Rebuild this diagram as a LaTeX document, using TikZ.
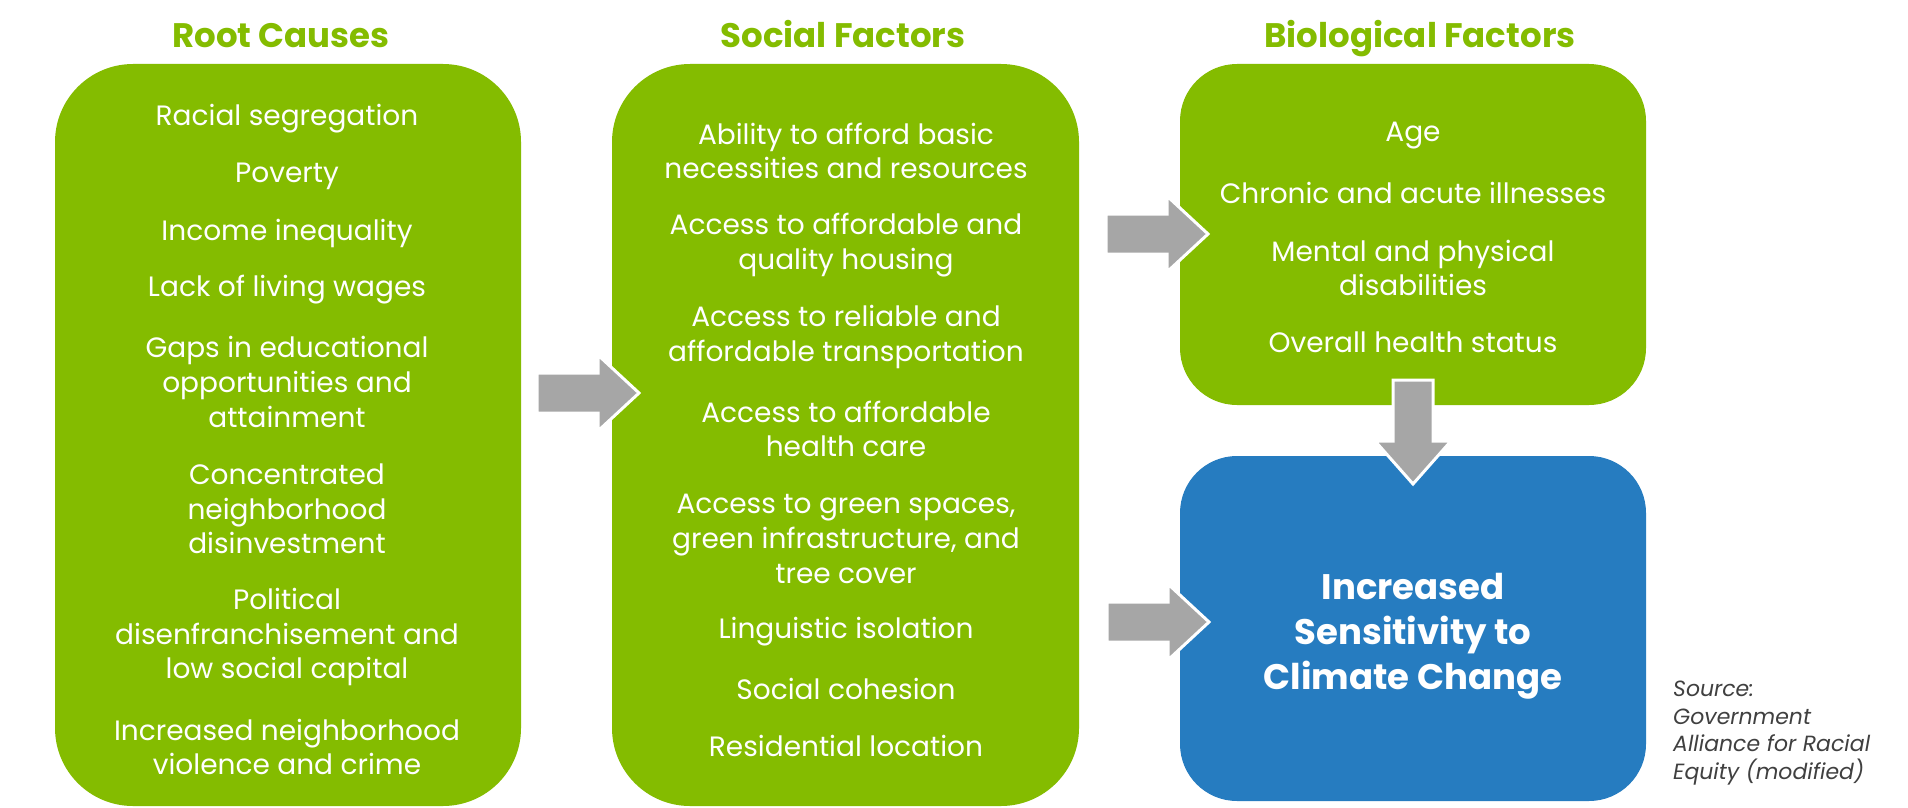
\documentclass[tikz,border=0pt]{standalone}
\usepackage{fontspec}
\setmainfont{Poppins}
\definecolor{leaf}{RGB}{132,188,0}
\definecolor{seablue}{RGB}{38,124,192}
\definecolor{arrowgray}{RGB}{166,166,166}
\definecolor{srcgray}{RGB}{64,64,64}
\tikzset{
  gbox/.style={fill=leaf, draw=none, rounded corners=78pt, inner sep=0pt},
  bbox/.style={fill=seablue, draw=none, rounded corners=57pt, inner sep=0pt},
  title/.style={text=leaf, font=\fontsize{34}{40}\selectfont\bfseries, inner sep=0pt, anchor=base},
  item/.style={text=white, align=center, font=\fontsize{28}{34.7}\selectfont, inner sep=0pt},
  rarrow/.pic={\filldraw[fill=arrowgray, draw=white, line width=3pt, line join=miter]
     (0,-20) -- (61,-20) -- (61,-38) -- (102,0) -- (61,38) -- (61,20) -- (0,20) -- cycle;},
  darrow/.pic={\filldraw[fill=arrowgray, draw=white, line width=3pt, line join=miter]
     (-20,0) -- (-20,61) -- (-38,61) -- (0,104) -- (38,61) -- (20,61) -- (20,0) -- cycle;}
}
\begin{document}
\begin{tikzpicture}[x=1pt,y=-1pt]
\useasboundingbox[fill=white] (0,0) rectangle (1908,808);
% boxes
\path[gbox] (55,64) rectangle (521,806);
\node[inner sep=0pt, minimum width=466pt, minimum height=742pt] (root) at (288,435) {};
\path[gbox] (612,64) rectangle (1079,806);
\node[inner sep=0pt, minimum width=467pt, minimum height=742pt] (social) at (845.5,435) {};
\path[gbox, rounded corners=57pt] (1180,64) rectangle (1646,405);
\node[inner sep=0pt, minimum width=466pt, minimum height=341pt] (bio) at (1413,234.5) {};
\path[bbox] (1180,456) rectangle (1646,801);
\node[inner sep=0pt, minimum width=466pt, minimum height=345pt] (sens) at (1413,628.5) {};
% titles
\node[title] (t1) at (281,48) {Root Causes};
\node[title] (t2) at (843,48) {Social Factors};
\node[title] (t3) at (1420,48) {Biological Factors};
% root causes
\node[item] (r1) at (287,119) {Racial segregation};
\node[item] (r2) at (287,176) {Poverty};
\node[item] (r3) at (287,233) {Income inequality};
\node[item] (r4) at (287,290) {Lack of living wages};
\node[item] (r5) at (287,382) {Gaps in educational\\opportunities and\\attainment};
\node[item] (r6) at (287,509) {Concentrated\\neighborhood\\disinvestment};
\node[item] (r7) at (287,637) {Political\\disenfranchisement and\\low social capital};
\node[item] (r8) at (287,747) {Increased neighborhood\\violence and crime};
% social factors
\node[item] (s1) at (846,151) {Ability to afford basic\\necessities and resources};
\node[item] (s2) at (846,245) {Access to affordable and\\quality housing};
\node[item] (s3) at (846,337) {Access to reliable and\\affordable transportation};
\node[item] (s4) at (846,429) {Access to affordable\\health care};
\node[item] (s5) at (846,539) {Access to green spaces,\\green infrastructure, and\\tree cover};
\node[item] (s6) at (846,632) {Linguistic isolation};
\node[item] (s7) at (846,689) {Social cohesion};
\node[item] (s8) at (846,746) {Residential location};
% biological factors
\node[item] (b1) at (1413,136) {Age};
\node[item] (b2) at (1413,193) {Chronic and acute illnesses};
\node[item] (b3) at (1413,268) {Mental and physical\\disabilities};
\node[item] (b4) at (1413,342) {Overall health status};
% outcome
\node[item, font=\fontsize{35.5}{45}\selectfont\bfseries] (out) at (1413,636) {Increased\\Sensitivity to\\Climate Change};
% source
\node[anchor=west, align=left, text=srcgray, inner sep=0pt, font=\fontsize{22}{27.5}\selectfont\itshape] (src) at (1673,733) {Source:\\Government\\Alliance for Racial\\Equity (modified)};
% arrows
\pic at (537,393) {rarrow};
\pic at (1106,234) {rarrow};
\pic at (1107,622) {rarrow};
\pic at (1413,380) {darrow};
\end{tikzpicture}
\end{document}
